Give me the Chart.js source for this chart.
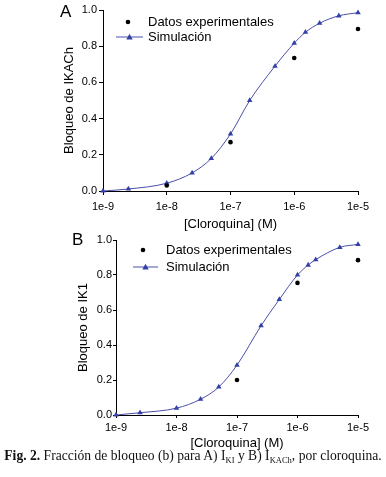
<!DOCTYPE html>
<html>
<head>
<meta charset="utf-8">
<script src="https://cdn.jsdelivr.net/npm/chart.js@4.4.0/dist/chart.umd.min.js"></script>
<style>
  body { margin: 0; background: #fff; }
  #wrap { position: relative; width: 386px; height: 477px; overflow: hidden; }
  canvas { position: absolute; left: 0; }
  .panel { position: absolute; font: 17px 'Liberation Sans', Arial, sans-serif; color: #000; }
  #caption { position: absolute; left: 0; width: 386px; top: 448px; text-align: center;
    font: 13.6px 'Liberation Serif', 'Times New Roman', serif; color: #111; white-space: nowrap; }
  #caption sub { font-size: 8.5px; vertical-align: -3px; line-height: 0; }
</style>
</head>
<body>
<div id="wrap">
  <canvas id="chartA" width="386" height="236" style="top:0px"></canvas>
  <canvas id="chartB" width="386" height="222" style="top:232px"></canvas>
  <div class="panel" style="left:60px; top:2px">A</div>
  <div class="panel" style="left:72px; top:230px">B</div>
  <div id="caption"><b>Fig. 2.</b> Fracción de bloqueo (b) para A) I<sub>KI</sub> y B) I<sub>KACh</sub>, por cloroquina.</div>
</div>
<script>
  // Datos
  const xTicks = [1e-9, 1e-8, 1e-7, 1e-6, 1e-5];
  const xTickLabels = ['1e-9', '1e-8', '1e-7', '1e-6', '1e-5'];
  const legendLabels = ['Datos experimentales', 'Simulación'];
  const xTitle = '[Cloroquina] (M)';

  // Panel A: IKACh
  const simXA = [1e-9, 2.5e-9, 1e-8, 2.5e-8, 5e-8, 1e-7, 2e-7, 5e-7, 1e-6, 1.5e-6, 2.5e-6, 5e-6, 1e-5];
  const simYA = [0.0, 0.011, 0.043, 0.10, 0.18, 0.315, 0.50, 0.69, 0.817, 0.877, 0.927, 0.968, 0.985];
  const expXA = [1e-8, 1e-7, 1e-6, 1e-5];
  const expYA = [0.03, 0.27, 0.735, 0.895];

  // Panel B: IK1
  const simXB = [1e-9, 2.5e-9, 1e-8, 2.5e-8, 5e-8, 1e-7, 2.5e-7, 5e-7, 1e-6, 1.5e-6, 2e-6, 5e-6, 1e-5];
  const simYB = [0.0, 0.013, 0.039, 0.09, 0.16, 0.285, 0.51, 0.66, 0.80, 0.857, 0.888, 0.958, 0.975];
  const expXB = [1e-7, 1e-6, 1e-5];
  const expYB = [0.20, 0.755, 0.885];

  const lineColor = '#4a4ea8';
  const markColor = '#3340a6';
  const fontFam = "'Liberation Sans', Arial, sans-serif";
  const narrowFam = "'Liberation Sans Narrow', 'Arial Narrow', 'Liberation Sans', Arial, sans-serif";

  const pts = (xs, ys) => xs.map((x, i) => ({ x: x, y: ys[i] }));

  // Leyenda dentro del área del gráfico
  const insideLegend = {
    id: 'insideLegend',
    afterDraw(chart, args, o) {
      const { ctx, chartArea } = chart;
      const L = chartArea.left, T = chartArea.top;
      ctx.save();
      ctx.font = '13px ' + fontFam;
      ctx.fillStyle = '#000';
      ctx.textBaseline = 'middle';
      // punto negro
      ctx.beginPath();
      ctx.arc(L + o.dotX, T + o.row1, 2.3, 0, Math.PI * 2);
      ctx.fill();
      ctx.fillText(legendLabels[0], L + o.textX, T + o.row1);
      // línea con triángulo
      ctx.strokeStyle = lineColor;
      ctx.lineWidth = 1;
      ctx.beginPath();
      ctx.moveTo(L + o.lineX0, T + o.row2);
      ctx.lineTo(L + o.lineX1, T + o.row2);
      ctx.stroke();
      const cx = (o.lineX0 + o.lineX1) / 2 + L, cy = T + o.row2;
      ctx.fillStyle = markColor;
      ctx.beginPath();
      ctx.moveTo(cx, cy - 3.2);
      ctx.lineTo(cx + 3.2, cy + 2.4);
      ctx.lineTo(cx - 3.2, cy + 2.4);
      ctx.closePath();
      ctx.fill();
      ctx.fillStyle = '#000';
      ctx.fillText(legendLabels[1], L + o.textX, T + o.row2);
      ctx.restore();
    }
  };

  function makeChart(id, simX, simY, expX, expY, yTitle, c) {
    const ctx = document.getElementById(id).getContext('2d');
    return new Chart(ctx, {
      type: 'line',
      data: {
        datasets: [{
          label: legendLabels[0],
          data: pts(expX, expY),
          showLine: false,
          pointStyle: 'circle',
          pointRadius: 2.3,
          pointBackgroundColor: '#000',
          pointBorderColor: '#000',
          pointBorderWidth: 0,
          clip: false,
          order: 0
        }, {
          label: legendLabels[1],
          data: pts(simX, simY),
          borderColor: lineColor,
          borderWidth: 1,
          cubicInterpolationMode: 'monotone',
          pointStyle: 'triangle',
          pointRadius: 3.2,
          pointBackgroundColor: markColor,
          pointBorderColor: markColor,
          pointBorderWidth: 0,
          clip: false,
          order: 1
        }]
      },
      options: {
        responsive: false,
        animation: false,
        layout: { padding: { left: 0, top: c.top, right: c.right, bottom: 0 } },
        plugins: {
          legend: { display: false },
          tooltip: { enabled: false },
          insideLegend: c.legend
        },
        scales: {
          x: {
            type: 'logarithmic',
            min: 1e-9,
            max: 1e-5,
            afterBuildTicks: s => { s.ticks = xTicks.map(v => ({ value: v })); },
            afterFit: s => { s.height = c.xHeight; },
            border: { display: true, color: '#000', width: 1 },
            grid: { display: true, drawOnChartArea: false, drawTicks: true, tickLength: c.tick, color: '#000' },
            ticks: {
              autoSkip: false, maxRotation: 0, color: '#000', padding: c.xPad,
              font: { family: narrowFam, size: 11 },
              callback: (v, i) => xTickLabels[i]
            },
            title: {
              display: true, text: xTitle, color: '#000',
              font: { family: fontFam, size: 13 },
              padding: { top: c.xTitlePad, bottom: c.xTitlePad }
            }
          },
          y: {
            min: 0,
            max: 1,
            afterFit: s => { s.width = c.yWidth; },
            border: { display: true, color: '#000', width: 1 },
            grid: { display: true, drawOnChartArea: false, drawTicks: true, tickLength: c.tick, color: '#000' },
            ticks: {
              stepSize: 0.2, color: '#000', padding: c.yPad,
              font: { family: fontFam, size: 11 },
              callback: v => v.toFixed(1)
            },
            title: {
              display: true, text: yTitle, color: '#000',
              font: { family: fontFam, size: 13 },
              padding: { top: c.yTitlePad, bottom: c.yTitlePad }
            }
          }
        }
      },
      plugins: [insideLegend]
    });
  }

  makeChart('chartA', simXA, simYA, expXA, expYA, 'Bloqueo de IKACh', {
    top: 10, right: 28, xHeight: 45, yWidth: 103, tick: 4, xPad: 5, yPad: 2,
    xTitlePad: 4, yTitlePad: 62,
    legend: { dotX: 25, textX: 45, lineX0: 13, lineX1: 40, row1: 12, row2: 27 }
  });

  makeChart('chartB', simXB, simYB, expXB, expYB, 'Bloqueo de IK1', {
    top: 8, right: 28, xHeight: 39, yWidth: 116, tick: 3, xPad: 3, yPad: 1,
    xTitlePad: 3, yTitlePad: 76,
    legend: { dotX: 27, textX: 50, lineX0: 17, lineX1: 42, row1: 10, row2: 27 }
  });
</script>
</body>
</html>
